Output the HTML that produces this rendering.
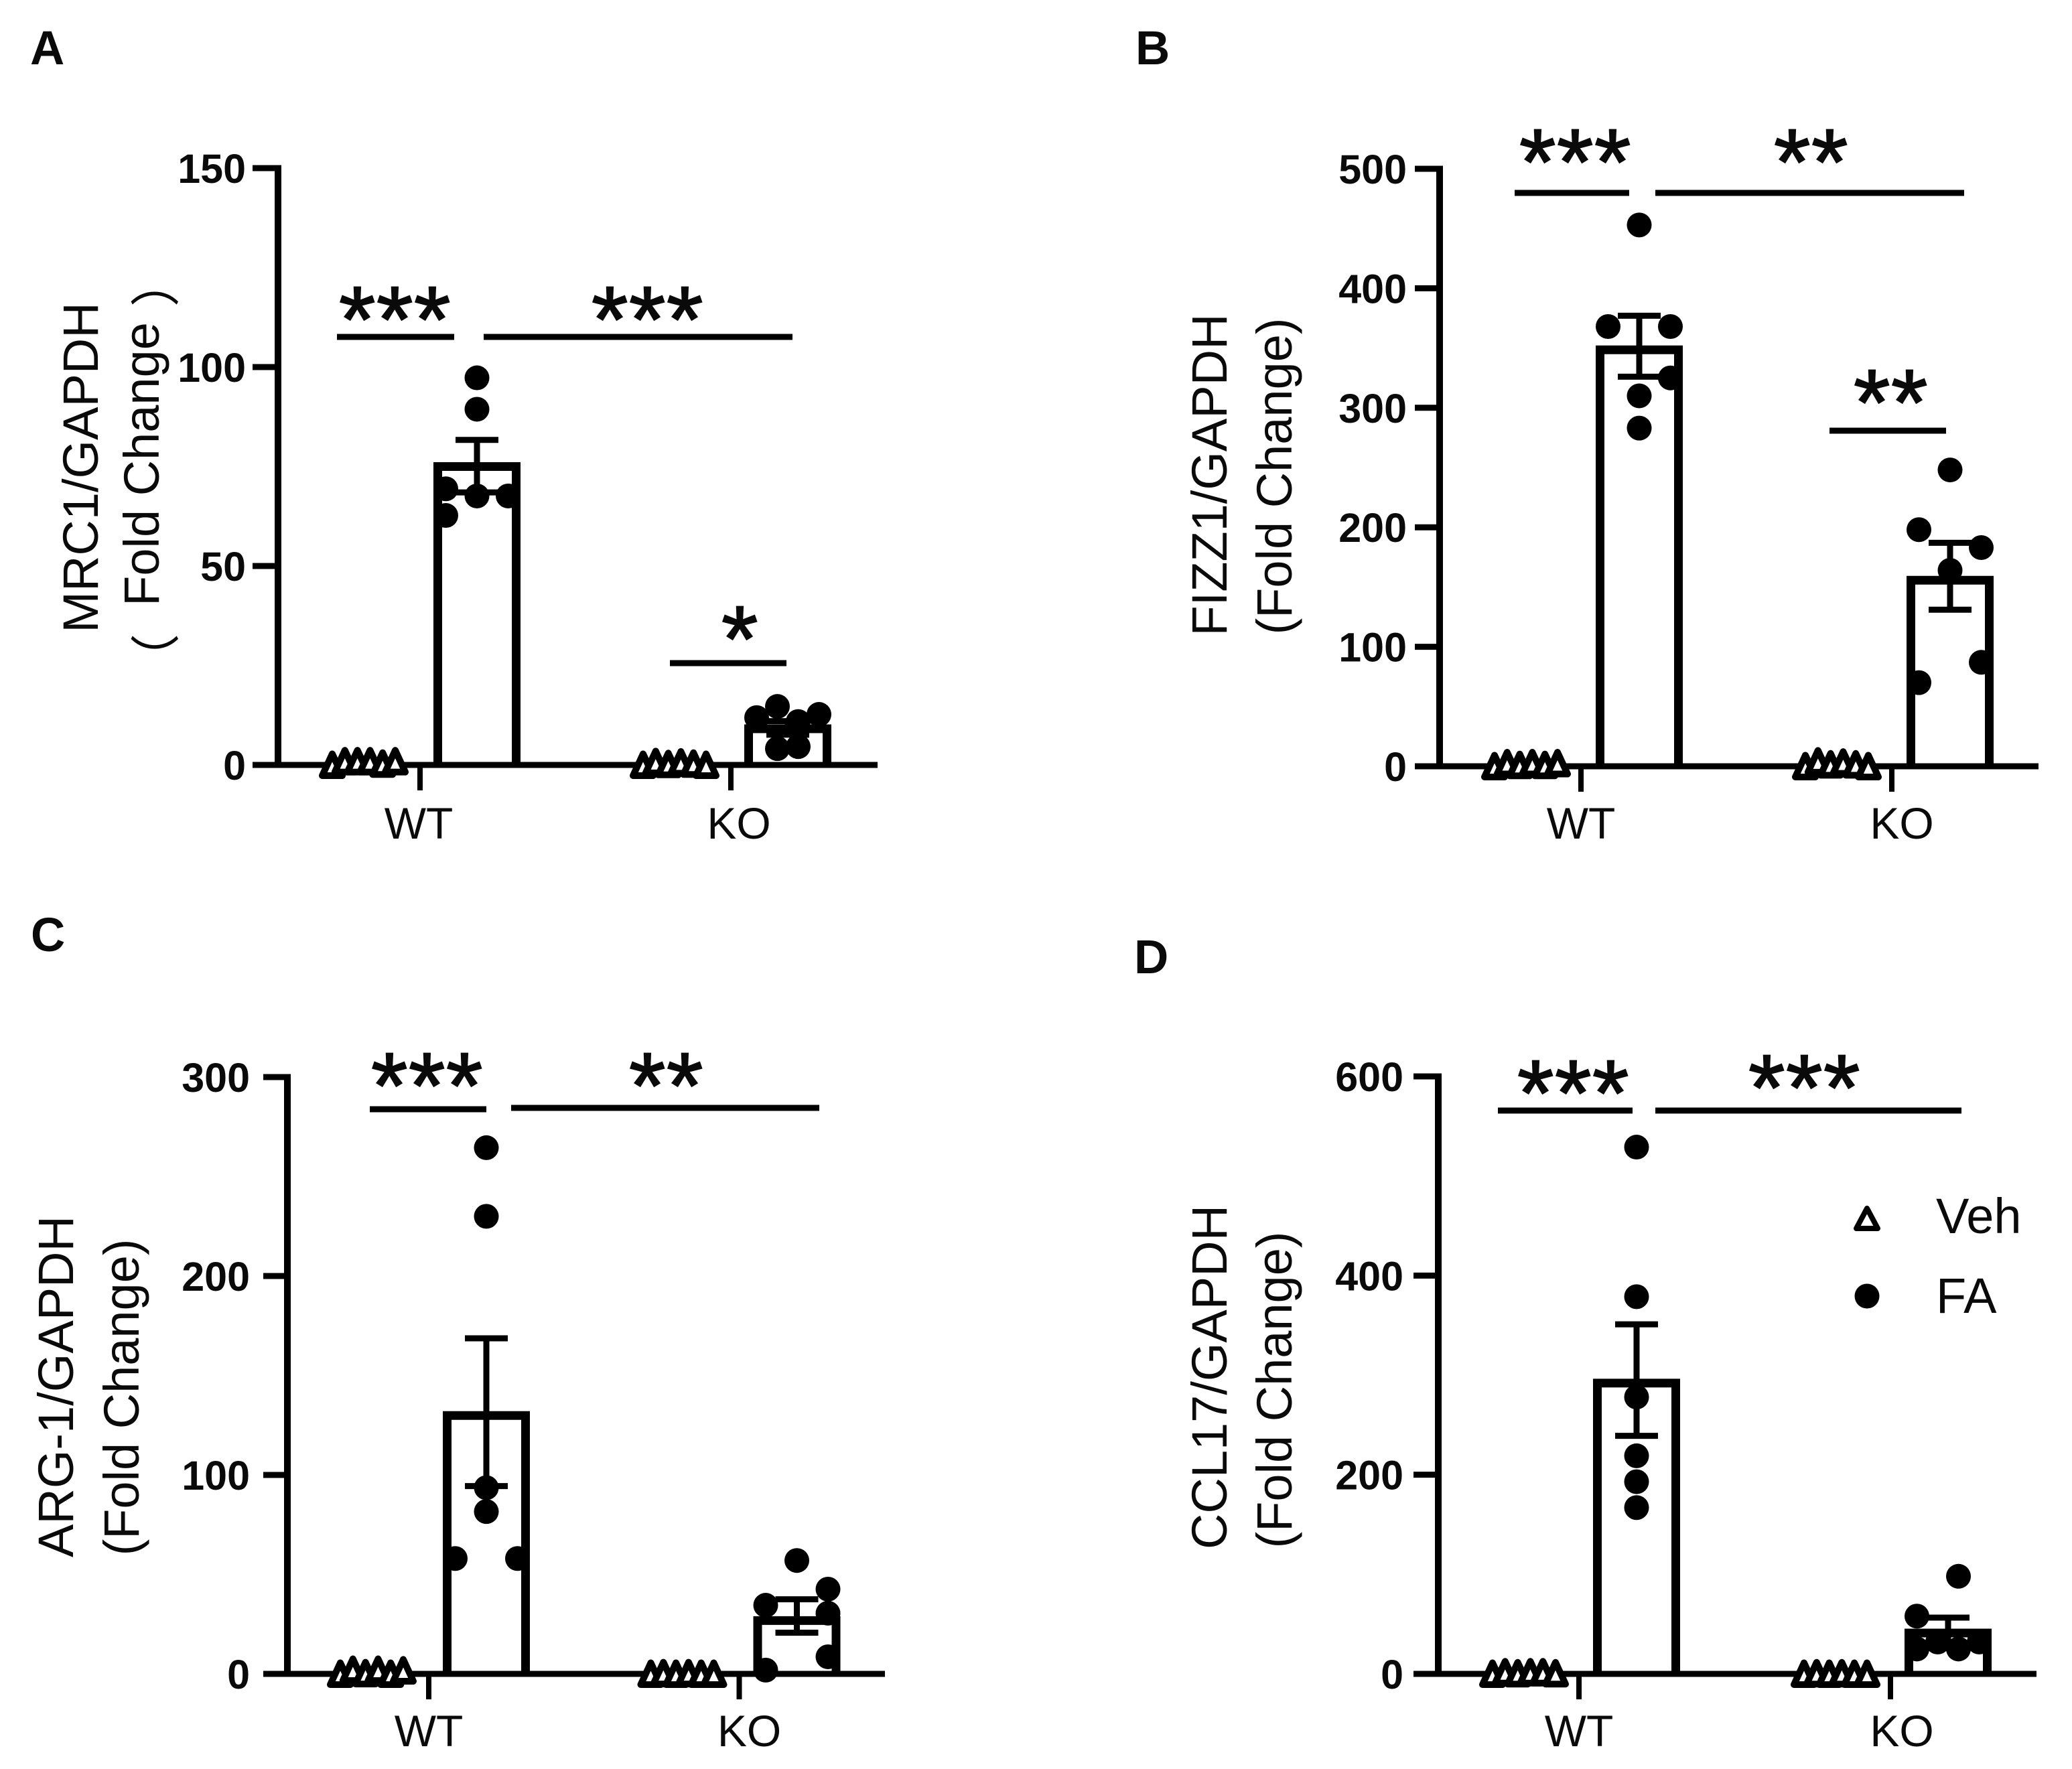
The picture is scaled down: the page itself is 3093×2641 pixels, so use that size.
<!DOCTYPE html>
<html lang="en">
<head>
<meta charset="utf-8">
<title>Fold change of macrophage markers</title>
<style>
html,body{margin:0;padding:0;background:#fff;}
svg{display:block;}
text{font-family:"Liberation Sans","Noto Sans CJK SC",sans-serif;fill:#0a0a0a;}
.letter{font-size:71px;font-weight:700;}
.tick{font-size:61px;font-weight:700;text-anchor:end;}
.cat{font-size:66px;text-anchor:middle;}
.title{font-size:74px;text-anchor:middle;}
.paren{font-size:74px;text-anchor:start;}
.star{font-size:140px;text-anchor:middle;letter-spacing:1.5px;stroke:#0a0a0a;stroke-width:2px;}
.leg{font-size:74px;}
</style>
</head>
<body>
<svg id="fig" xmlns="http://www.w3.org/2000/svg" width="3093" height="2641" viewBox="0 0 3093 2641">
  <rect width="3093" height="2641" fill="#fff"/>

  <text class="letter" x="45" y="96">A</text>
  <text class="letter" x="1695" y="96">B</text>
  <text class="letter" x="46" y="1420">C</text>
  <text class="letter" x="1693" y="1453">D</text>

  <text class="title" transform="translate(146,698) rotate(-90)">MRC1/GAPDH</text>
  <text class="title" transform="translate(237,693) rotate(-90)">Fold Change</text>
  <text class="paren" transform="translate(259,1020) rotate(-90)">（</text>
  <text class="paren" transform="translate(259,458) rotate(-90)">）</text>
  <text class="title" transform="translate(1831,709) rotate(-90)">FIZZ1/GAPDH</text>
  <text class="title" transform="translate(1928,711) rotate(-90)">(Fold Change)</text>
  <text class="title" transform="translate(109,2070) rotate(-90)">ARG-1/GAPDH</text>
  <text class="title" transform="translate(207,2086) rotate(-90)">(Fold Change)</text>
  <text class="title" transform="translate(1831,2056) rotate(-90)">CCL17/GAPDH</text>
  <text class="title" transform="translate(1928,2075) rotate(-90)">(Fold Change)</text>

  <g id="legend">
    <g>
      <path d="M2787 1804 L2803 1834 L2771 1834 Z" fill="#fff" stroke="#000" stroke-width="8" stroke-linejoin="round"/>
      <text class="leg" x="2890" y="1841">Veh</text>
    </g>
    <g>
      <circle cx="2787" cy="1935" r="18.5" fill="#000"/>
      <text class="leg" x="2890" y="1960">FA</text>
    </g>
  </g>
</svg>

<script>
// Shared categories
const categories = ['WT', 'KO'];

// Panel A: MRC1
const aTicks = [0, 50, 100, 150];
const aVehWT = [0, 0.9, 0.9, 0.9, 0.3, 0.9];
const aVehKO = [0, 0.7, 0.2, 0.6, 0.3, 0];
const aFaMeans = [75, 9.1];
const aFaErrHigh = [81.7, 11];
const aFaErrLow = [68.5, 7.6];
const aFaWT = [97.3, 89.4, 69.4, 67.6, 67.6, 62.7];
const aFaKO = [14.7, 11.9, 12.7, 10.9, 4.1, 4.6];
const aSlotsWT = [0, 0, -3, 0, 3, -3];
const aSlotsKO = [-1, -3, 3, 1, -1, 1];

// Panel B: FIZZ1
const bTicks = [0, 100, 200, 300, 400, 500];
const bVehWT = [0, 2.5, 1, 2.5, 1, 2.5];
const bVehKO = [0, 4, 1.5, 3, 1.5, 0];
const bFaMeans = [348.5, 155.7];
const bFaErrHigh = [377, 187];
const bFaErrLow = [326, 131];
const bFaWT = [453, 368, 368, 325, 310, 283];
const bFaKO = [248, 198, 183, 164, 87, 70];
const bSlotsWT = [0, -3, 3, 3, 0, 0];
const bSlotsKO = [0, -3, 3, 0, 3, -3];

// Panel C: ARG-1
const cTicks = [0, 100, 200, 300];
const cVehWT = [0, 2, 0.3, 2, 0, 1.7];
const cVehKO = [0, 0.3, 0, 0.3, 0, 0];
const cFaMeans = [129.9, 26.8];
const cFaErrHigh = [168.7, 37.5];
const cFaErrLow = [94.4, 20.7];
const cFaWT = [264.5, 230, 93.6, 81.6, 58, 58];
const cFaKO = [57, 42.6, 34.5, 30.5, 8.6, 1.9];
const cSlotsWT = [0, 0, 0, 0, -3, 3];
const cSlotsKO = [0, 3, -3, 3, 3, -3];

// Panel D: CCL17
const dTicks = [0, 200, 400, 600];
const dVehWT = [0, 1.5, 0.5, 1.5, 1.5, 0.5];
const dVehKO = [0, 0.5, 0, 0.5, 0, 0];
const dFaMeans = [292, 41];
const dFaErrHigh = [351, 56.5];
const dFaErrLow = [239, 26];
const dFaWT = [529, 378.8, 278, 219, 193, 167];
const dFaKO = [98, 58, 25, 32, 25, 32];
const dSlotsWT = [0, 0, 0, 0, 0, 0];
const dSlotsKO = [1, -3, -3, -1, 1, 3];

const NS = 'http://www.w3.org/2000/svg';
const fig = document.getElementById('fig');

function make(parent, tag, attrs, content) {
  const node = document.createElementNS(NS, tag);
  for (const k in attrs) node.setAttribute(k, attrs[k]);
  if (content !== undefined) node.textContent = content;
  parent.appendChild(node);
  return node;
}

function drawPanel(p) {
  const group = make(fig, 'g', {});
  
  

  const yMax = p.ticks[p.ticks.length - 1];
  const yScale = v => p.yBase - (v / yMax) * (p.yBase - p.yTop);
  const xScale = i => p.tick0 + i * p.tickStep;

  // bars, error bars, dots
  p.means.forEach((m, i) => {
    const cx = xScale(i) + p.barOff;
    const catName = categories[i].toLowerCase();

    const bar = make(group, 'path', {
      d: 'M' + (cx - 58.5) + ' ' + p.yBase + ' V' + yScale(m) + ' H' + (cx + 58.5) + ' V' + p.yBase,
      fill: 'none', stroke: '#000', 'stroke-width': 13
    });
    
    

    const stem = make(group, 'line', {
      x1: cx, x2: cx, y1: yScale(p.errHigh[i]), y2: yScale(p.errLow[i]),
      stroke: '#000', 'stroke-width': 9
    });
    
    

    [p.errHigh[i], p.errLow[i]].forEach(v => {
      const cap = make(group, 'line', {
        x1: cx - 32, x2: cx + 32, y1: yScale(v), y2: yScale(v),
        stroke: '#000', 'stroke-width': 9
      });
      
      
    });

    p.fa[i].forEach((v, j) => {
      const dot = make(group, 'circle', {
        cx: cx + p.slots[i][j] * 15.5, cy: yScale(v), r: 18.5, fill: '#000'
      });
      
      
    });
  });

  // axes
  const yAxis = make(group, 'line', {
    x1: p.axisX, x2: p.axisX, y1: p.yTop - 4.5, y2: p.yBase + 4.5,
    stroke: '#000', 'stroke-width': 10
  });
  
  

  const xAxis = make(group, 'line', {
    x1: p.axisX, x2: p.xEnd, y1: p.yBase, y2: p.yBase,
    stroke: '#000', 'stroke-width': 9
  });
  
  

  p.ticks.forEach(t => {
    const mark = make(group, 'line', {
      x1: p.tickLeft, x2: p.axisX, y1: yScale(t), y2: yScale(t),
      stroke: '#000', 'stroke-width': 9
    });
    
    

    const label = make(group, 'text', {
      class: 'tick', x: p.labelRight, y: yScale(t) + 22
    }, String(t));
    
    
  });

  categories.forEach((c, i) => {
    const mark = make(group, 'line', {
      x1: xScale(i), x2: xScale(i), y1: p.yBase, y2: p.yBase + 38,
      stroke: '#000', 'stroke-width': 8
    });
    
    

    const label = make(group, 'text', {
      class: 'cat', x: xScale(i) + p.catOff[i], y: p.catBase
    }, c);
    
    
  });

  // vehicle triangles on top of the axis
  p.veh.forEach((vals, i) => {
    const cx = xScale(i) + p.vehOff;
    vals.forEach((v, j) => {
      const x = cx + (j - 2.5) * 18.8;
      const y = yScale(v);
      const tri = make(group, 'path', {
        d: 'M' + x + ' ' + (y - 16.5) + ' L' + (x + 15) + ' ' + (y + 16) + ' L' + (x - 15) + ' ' + (y + 16) + ' Z',
        fill: '#fff', stroke: '#000', 'stroke-width': 10, 'stroke-linejoin': 'round'
      });
      
      
    });
  });

  // significance annotations
  p.sig.forEach(s => {
    const line = make(group, 'line', {
      x1: s.x1, x2: s.x2, y1: s.y, y2: s.y, stroke: '#000', 'stroke-width': 9
    });
    
    

    const star = make(group, 'text', {
      class: 'star', x: s.sx, y: s.sy + 64
    }, s.t);
    
    
  });
}

drawPanel({
  id: 'a', ticks: aTicks, means: aFaMeans, errHigh: aFaErrHigh, errLow: aFaErrLow,
  fa: [aFaWT, aFaKO], slots: [aSlotsWT, aSlotsKO], veh: [aVehWT, aVehKO],
  axisX: 415, yTop: 251, yBase: 1142, tickLeft: 377, xEnd: 1310, labelRight: 367,
  tick0: 627, tickStep: 464, barOff: 85, vehOff: -84, catOff: [-2, 12], catBase: 1252,
  sig: [
    { x1: 503, x2: 678, y: 503, sx: 590, sy: 461, t: '***' },
    { x1: 722, x2: 1183, y: 503, sx: 967, sy: 461, t: '***' },
    { x1: 1000, x2: 1174, y: 990, sx: 1105, sy: 938, t: '*' }
  ]
});

drawPanel({
  id: 'b', ticks: bTicks, means: bFaMeans, errHigh: bFaErrHigh, errLow: bFaErrLow,
  fa: [bFaWT, bFaKO], slots: [bSlotsWT, bSlotsKO], veh: [bVehWT, bVehKO],
  axisX: 2149, yTop: 252, yBase: 1144, tickLeft: 2112, xEnd: 3043, labelRight: 2100,
  tick0: 2360, tickStep: 464, barOff: 87, vehOff: -82, catOff: [0, 15], catBase: 1252,
  sig: [
    { x1: 2261, x2: 2432, y: 288, sx: 2352, sy: 226, t: '***' },
    { x1: 2471, x2: 2932, y: 288, sx: 2704, sy: 226, t: '**' },
    { x1: 2731, x2: 2905, y: 643, sx: 2823, sy: 585, t: '**' }
  ]
});

drawPanel({
  id: 'c', ticks: cTicks, means: cFaMeans, errHigh: cFaErrHigh, errLow: cFaErrLow,
  fa: [cFaWT, cFaKO], slots: [cSlotsWT, cSlotsKO], veh: [cVehWT, cVehKO],
  axisX: 429, yTop: 1608, yBase: 2499, tickLeft: 393, xEnd: 1321, labelRight: 373,
  tick0: 640, tickStep: 463.5, barOff: 86, vehOff: -85, catOff: [0, 15], catBase: 2607,
  sig: [
    { x1: 552, x2: 726, y: 1656, sx: 638, sy: 1605, t: '***' },
    { x1: 763, x2: 1223, y: 1654, sx: 995, sy: 1605, t: '**' }
  ]
});

drawPanel({
  id: 'd', ticks: dTicks, means: dFaMeans, errHigh: dFaErrHigh, errLow: dFaErrLow,
  fa: [dFaWT, dFaKO], slots: [dSlotsWT, dSlotsKO], veh: [dVehWT, dVehKO],
  axisX: 2147, yTop: 1607, yBase: 2499, tickLeft: 2110, xEnd: 3040, labelRight: 2095,
  tick0: 2357, tickStep: 465, barOff: 86, vehOff: -82, catOff: [0, 17], catBase: 2607,
  sig: [
    { x1: 2236, x2: 2437, y: 1658, sx: 2349, sy: 1616, t: '***' },
    { x1: 2471, x2: 2928, y: 1658, sx: 2694, sy: 1608, t: '***' }
  ]
});
</script>
</body>
</html>
